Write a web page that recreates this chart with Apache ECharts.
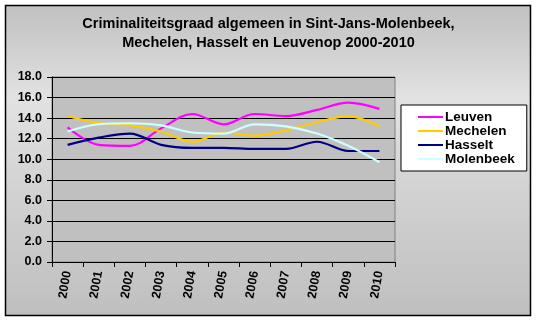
<!DOCTYPE html>
<html>
<head>
<meta charset="utf-8">
<script src="https://cdn.jsdelivr.net/npm/echarts@6/dist/echarts.min.js"></script>
<style>
  html, body { margin: 0; padding: 0; background: #ffffff; }
  #chart { width: 537px; height: 322px; }
</style>
</head>
<body>
<div id="chart"></div>
<script>
// Jaren (categorieën)
const years = ['2000', '2001', '2002', '2003', '2004', '2005', '2006', '2007', '2008', '2009', '2010'];

// Criminaliteitsgraad per gemeente
const leuven    = [13.1, 11.4, 11.3, 13.0, 14.4, 13.4, 14.4, 14.2, 14.8, 15.5, 14.9];
const mechelen  = [14.2, 13.5, 13.3, 12.7, 11.7, 12.6, 12.3, 12.8, 13.6, 14.2, 13.2];
const hasselt   = [11.4, 12.1, 12.5, 11.4, 11.1, 11.1, 11.0, 11.0, 11.7, 10.8, 10.8];
const molenbeek = [12.7, 13.4, 13.5, 13.3, 12.6, 12.5, 13.4, 13.2, 12.5, 11.3, 9.7];

const seriesNames = ['Leuven', 'Mechelen', 'Hasselt', 'Molenbeek'];
const seriesData = [leuven, mechelen, hasselt, molenbeek];
const seriesColors = ['#ff00ff', '#ffcc00', '#000080', '#ccffff'];

const fontFamily = '"Liberation Sans", Arial, sans-serif';

const chart = echarts.init(document.getElementById('chart'), null, { renderer: 'canvas' });

chart.setOption({
  backgroundColor: '#ffffff',
  animation: false,
  graphic: [{
    type: 'rect',
    z: -10,
    silent: true,
    shape: { x: 5.5, y: 5.5, width: 525, height: 310 },
    style: {
      fill: new echarts.graphic.LinearGradient(0, 0, 0, 1, [
        { offset: 0, color: '#c0c0c0' },
        { offset: 0.3, color: '#e2e2e2' },
        { offset: 0.6, color: '#d2d2d2' },
        { offset: 1, color: '#bfbfbf' }
      ]),
      stroke: '#000000',
      lineWidth: 1.5
    }
  }],
  title: {
    text: 'Criminaliteitsgraad algemeen in Sint-Jans-Molenbeek,\nMechelen, Hasselt en Leuvenop 2000-2010',
    left: 'center',
    top: 9,
    textStyle: {
      fontFamily: fontFamily,
      fontSize: 14.5,
      fontWeight: 'bold',
      color: '#000000',
      lineHeight: 19
    }
  },
  legend: {
    orient: 'vertical',
    left: 401,
    top: 105,
    width: 126,
    data: seriesNames,
    icon: 'rect',
    itemWidth: 25,
    itemHeight: 2,
    itemGap: 0,
    padding: [5, 12, 5, 17],
    backgroundColor: '#ffffff',
    borderColor: '#000000',
    borderWidth: 1,
    textStyle: {
      fontFamily: fontFamily,
      fontSize: 13.5,
      fontWeight: 'bold',
      color: '#000000',
      lineHeight: 13.5,
      padding: [0, 0, 0, -3]
    }
  },
  grid: {
    left: 52,
    right: 142,
    top: 77,
    bottom: 60,
    show: true,
    backgroundColor: '#c0c0c0',
    borderColor: '#808080',
    borderWidth: 1
  },
  xAxis: {
    type: 'category',
    data: years,
    boundaryGap: true,
    axisLine: { lineStyle: { color: '#000000', width: 1 } },
    axisTick: { show: true, alignWithLabel: false, length: 5, lineStyle: { color: '#000000' } },
    axisLabel: {
      rotate: 80,
      margin: 9,
      fontFamily: fontFamily,
      fontSize: 12.5,
      fontWeight: 'bold',
      color: '#000000'
    }
  },
  yAxis: {
    type: 'value',
    min: 0,
    max: 18,
    interval: 2,
    axisLine: { show: true, lineStyle: { color: '#000000', width: 1 } },
    axisTick: { show: true, length: 5, lineStyle: { color: '#000000' } },
    axisLabel: {
      margin: 10,
      fontFamily: fontFamily,
      fontSize: 12.5,
      fontWeight: 'bold',
      color: '#000000',
      formatter: v => v.toFixed(1)
    },
    splitLine: { show: true, lineStyle: { color: '#000000', width: 1 } }
  },
  series: seriesNames.map((name, i) => ({
    name: name,
    type: 'line',
    data: seriesData[i],
    smooth: 0.35,
    showSymbol: false,
    symbol: 'none',
    lineStyle: { color: seriesColors[i], width: 2.2 },
    itemStyle: { color: seriesColors[i] }
  }))
});
</script>
</body>
</html>
